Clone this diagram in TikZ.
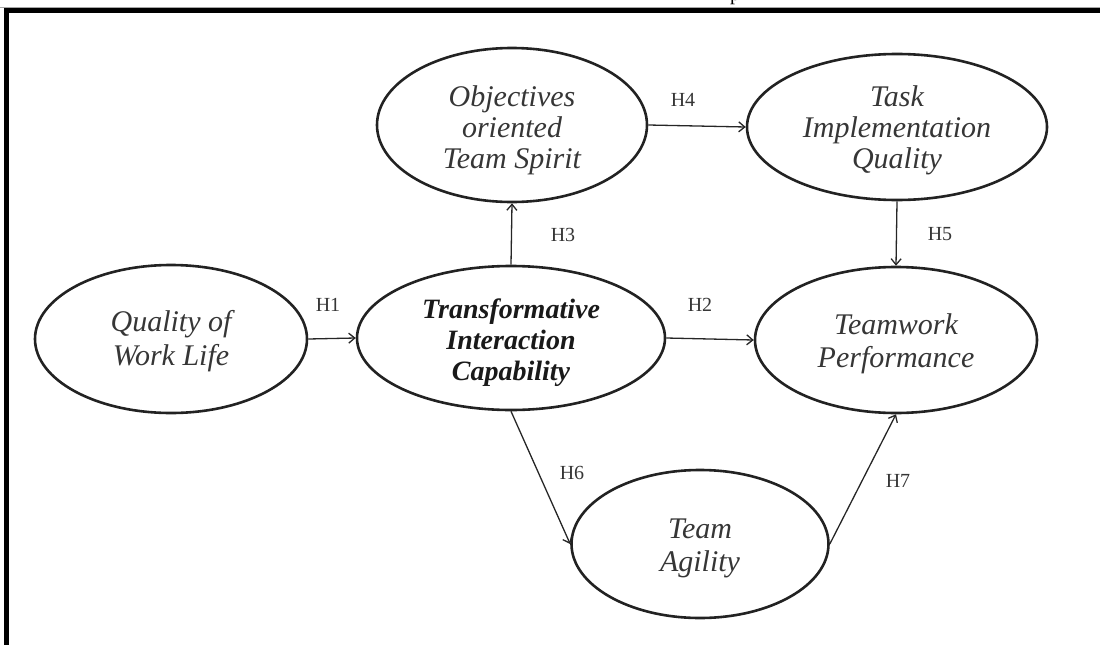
\documentclass[tikz,border=0pt]{standalone}
\usepackage{fontspec}
\setmainfont{Liberation Serif}
\usetikzlibrary{shapes.geometric,arrows.meta}
\definecolor{inkdark}{HTML}{222222}
\definecolor{textgray}{HTML}{363636}
% stacked, centred lines drawn a little below the middle of the node
\newcommand\stacklines[2][5pt]{\raisebox{-#1}[\height][\depth]{\begin{tabular}{@{}c@{}}#2\end{tabular}}}
\begin{document}
\begin{tikzpicture}[x=1pt,y=-1pt,
  construct/.style={ellipse,draw=inkdark,line width=2.6pt,inner sep=0pt,
    text=textgray,font=\fontsize{30}{31}\selectfont\itshape},
  keyconstruct/.style={construct,text=black!90,font=\fontsize{28}{31}\selectfont\bfseries\itshape},
  path/.style={draw=black!85,line width=1.3pt,-{Straight Barb[length=6pt,width=10pt,line width=1.3pt]}},
  hyp/.style={text=textgray,font=\fontsize{20}{20}\selectfont,inner sep=0pt}]
  \useasboundingbox (0,0) rectangle (1100,645);

  % frame lines along the top and left edges
  \draw[black!35,line width=1pt] (0,7) -- (1100,7);
  \draw[black,line width=5pt] (4,10.5) -- (1100,10.5);
  \draw[black,line width=5pt] (6.5,8) -- (6.5,645);
  % descender of a caption letter running off the top edge
  \begin{scope}
    \clip (0,0) rectangle (1100,6);
    \node[anchor=base,inner sep=0pt,font=\fontsize{20}{20}\selectfont] (capp) at (735,0) {p};
  \end{scope}

  % constructs
  \node[construct,minimum width=272pt,minimum height=148pt,font=\fontsize{30}{34}\selectfont\itshape] (qwl) at (171,339)
    {\stacklines[3pt]{Quality of\\Work Life}};
  \node[keyconstruct,minimum width=308pt,minimum height=144pt] (tic) at (511,338)
    {\stacklines[5pt]{Transformative\\Interaction\\Capability}};
  \node[construct,minimum width=270pt,minimum height=154pt] (ots) at (512,125)
    {\stacklines[6pt]{Objectives\\oriented\\Team Spirit}};
  \node[construct,minimum width=300pt,minimum height=146pt] (tiq) at (897,127)
    {\stacklines[4pt]{Task\\Implementation\\Quality}};
  \node[construct,minimum width=282pt,minimum height=146pt,font=\fontsize{30}{33}\selectfont\itshape] (twp) at (896,340)
    {\stacklines[4pt]{Teamwork\\Performance}};
  \node[construct,minimum width=257pt,minimum height=148pt,font=\fontsize{30}{33}\selectfont\itshape] (ta) at (700,544)
    {\stacklines[4pt]{Team\\Agility}};

  % hypothesised paths
  \draw[path] (qwl.east) -- (tic.west);
  \draw[path] (tic.east) -- (twp.west);
  \draw[path] (tic.north) -- (ots.south);
  \draw[path] (ots.east) -- (tiq.west);
  \draw[path] (tiq.south) -- (twp.north);
  \draw[path] (tic.south) -- (ta.west);
  \draw[path] (ta.east) -- (twp.south);

  % path labels
  \node[hyp] (h1) at (328,305) {H1};
  \node[hyp] (h2) at (700,305) {H2};
  \node[hyp] (h3) at (563,235) {H3};
  \node[hyp] (h4) at (683,100) {H4};
  \node[hyp] (h5) at (940,234) {H5};
  \node[hyp] (h6) at (572,473) {H6};
  \node[hyp] (h7) at (898,481) {H7};
\end{tikzpicture}
\end{document}
